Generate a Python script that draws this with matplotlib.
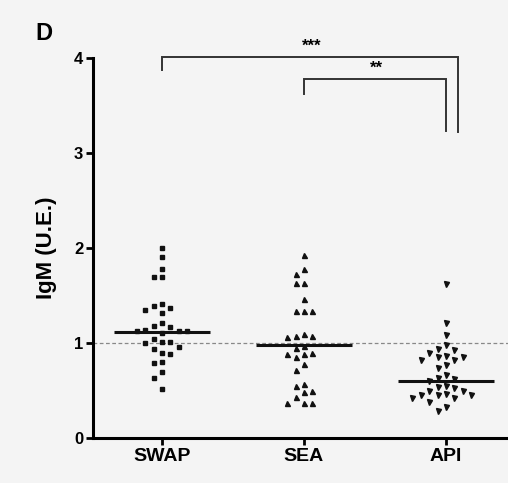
import numpy as np
import matplotlib
matplotlib.use("Agg")
from matplotlib import pyplot as plt

plt.rcParams["font.family"] = ["Liberation Sans", "DejaVu Sans"]
plt.rcParams["font.weight"] = "bold"

groups = ["SWAP", "SEA", "API"]
markers = ["s", "^", "v"]

swap = [2.00, 1.91, 1.78, 1.70, 1.69, 1.41, 1.37, 1.32, 1.35, 1.39,
        1.18, 1.14, 1.11, 1.13, 1.13, 1.13, 1.17, 1.21,
        0.96, 1.01, 1.00, 1.01, 1.04, 0.90, 0.88, 0.94,
        0.79, 0.80, 0.69, 0.63, 0.52]
sea = [1.93, 1.78, 1.73, 1.63, 1.63, 1.46, 1.34, 1.34, 1.34,
       1.09, 1.07, 1.06, 1.07, 0.95, 0.97, 0.90, 0.88, 0.85, 0.88,
       0.78, 0.72, 0.57, 0.55, 0.49, 0.48, 0.43, 0.37, 0.37, 0.37]
api = [1.62, 1.21, 1.08, 0.98, 0.90, 0.94, 0.93,
       0.85, 0.82, 0.85, 0.86, 0.82, 0.74, 0.77,
       0.66, 0.62, 0.60, 0.63,
       0.55, 0.53, 0.49, 0.49, 0.54, 0.46, 0.45, 0.42, 0.42, 0.45, 0.45,
       0.38, 0.33, 0.28]
medians = [1.12, 0.98, 0.60]
values = [swap, sea, api]

# significance brackets: (x_left, x_right, y, left tick end, right tick end, text)
brackets = [(0, 2.085, 4.01, 3.87, 3.22, "***"),
            (1, 2.0, 3.78, 3.62, 3.23, "**")]


def column_offsets(vals, step=0.059, gap=0.085):
    # place points on a grid of horizontal slots, nearest free slot to the centre
    order = np.argsort(vals)[::-1]
    slots = [0, -1, 1, -2, 2, -3, 3, -4, 4, -5, 5]
    placed = {}
    offs = np.zeros(len(vals))
    for i in order:
        v = vals[i]
        for s in slots:
            if all(abs(v - u) >= gap for u in placed.get(s, [])):
                placed.setdefault(s, []).append(v)
                offs[i] = s * step
                break
    return offs


fig = plt.figure(figsize=(5.08, 4.83), dpi=100, facecolor="#f4f4f4")
ax = fig.add_axes([93 / 508, 45 / 483, 415 / 508, 380 / 483])
ax.set_facecolor("#f4f4f4")

for i, (vals, m) in enumerate(zip(values, markers)):
    vals = np.array(vals)
    x = i + column_offsets(vals)
    ax.plot(x, vals, m, color="#111111", markersize=3.0 if m == "s" else 3.6,
            linestyle="none", clip_on=False, zorder=3)
    ax.hlines(medians[i], i - 0.34, i + 0.34, color="#111111", linewidth=2.2, zorder=4)

ax.axhline(1, color="#888888", linewidth=0.9, linestyle=(0, (3, 2)), zorder=1)

for x0, x1, y, yl, yr, txt in brackets:
    ax.plot([x0, x0, x1, x1], [yl, y, y, yr], color="#333333", linewidth=1.4,
            clip_on=False, solid_joinstyle="miter")

ax.text(1.056, 4.04, "***", ha="center", va="bottom", fontsize=12, fontweight="bold")
ax.text(1.51, 3.81, "**", ha="center", va="bottom", fontsize=12, fontweight="bold")

ax.set_xlim(-0.486, 2.437)
ax.set_ylim(0, 4)
ax.set_xticks(range(len(groups)))
ax.set_xticklabels(groups, fontsize=14, fontweight="bold")
ax.set_yticks([0, 1, 2, 3, 4])
ax.set_yticklabels(["0", "1", "2", "3", "4"], fontsize=12, fontweight="bold")
ax.set_ylabel("IgM (U.E.)", fontsize=16, fontweight="bold", labelpad=12)

for side in ["top", "right"]:
    ax.spines[side].set_visible(False)
for side in ["left", "bottom"]:
    ax.spines[side].set_linewidth(2.2)
ax.tick_params(axis="both", width=2, length=5, pad=2)

fig.text(44 / 508, 1 - 34 / 483, "D", ha="center", va="center", fontsize=17, fontweight="bold")

fig.savefig("out.png", dpi=100, facecolor=fig.get_facecolor())
